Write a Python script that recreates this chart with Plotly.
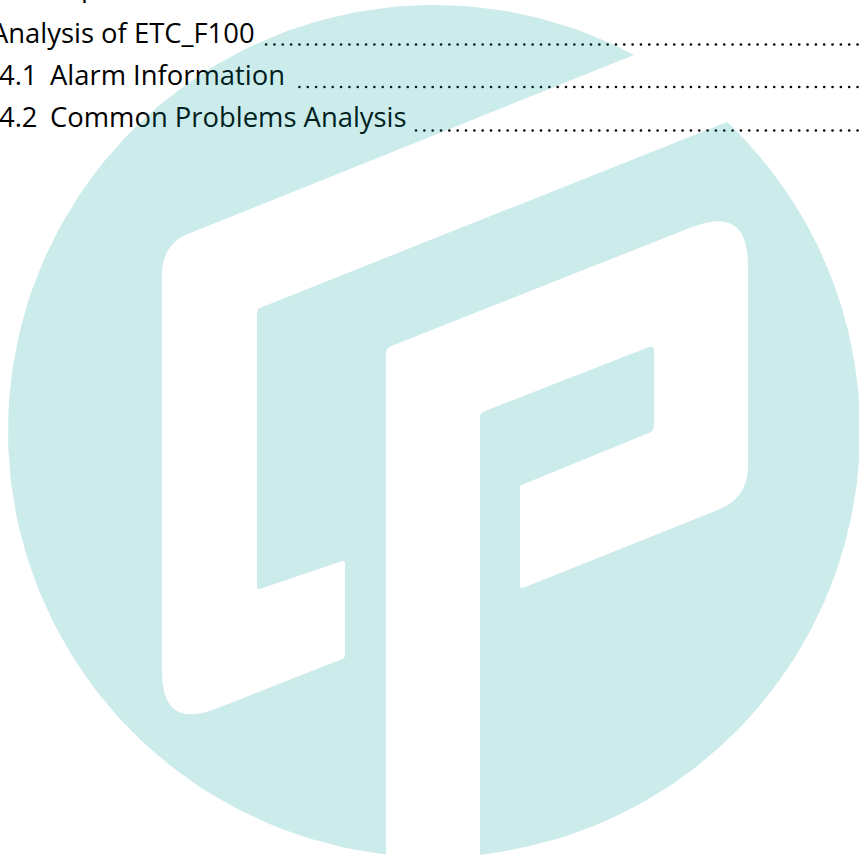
import numpy as np
import plotly.graph_objects as go

# ---------------- data ----------------
# table-of-contents rows (baseline y in px, text, x of text start)
row_baselines = [-1, 46, 88, 130]
row_numbers = ["", "", "4.1", "4.2"]
row_number_x = [0, 0, -1, -1]
row_titles = ["p", "Analysis of ETC_F100", "Alarm Information", "Common Problems Analysis"]
row_title_x = [81, -9, 50, 50]

# dot leaders
leader_rows_y = [44.5, 87, 130.5]
leader_start_x = [264, 298, 415]
leader_grid_origin = 432.7
leader_spacing = 8.33
page_right = 859

# watermark logo (circle + two cut channels), pixel coordinates
circle_cx, circle_cy, circle_r = 434, 431, 426
# L-shaped cut (x, y, corner radius)
band_x = [634, 162, 162, 345, 345, 257, 257, 727]
band_y = [55, 244, 730, 658, 560, 590, 309, 122]
band_r = [0, 30, 58, 3, 3, 3, 4, 0]
# P-shaped cut
gap_x = [480, 480, 654, 654, 520, 520, 748, 748, 386, 386]
gap_y = [855, 413, 345, 431, 485, 589, 498, 205, 348, 855]
gap_r = [0, 4, 6, 5, 3, 3, 32, 60, 5, 0]

watermark_rgba = "rgba(0,155,155,0.2)"
FONT = "Open Sans"
FSIZE = 27.4


def rounded(xs, ys, rs, n=10):
    out = []
    pts = list(zip(xs, ys))
    for i, (x, y) in enumerate(pts):
        r = rs[i]
        if r <= 0 or i == 0 or i == len(pts) - 1:
            out.append((x, y))
            continue
        px, py = pts[i - 1]
        nx, ny = pts[i + 1]
        v1 = np.array([px - x, py - y], float)
        v2 = np.array([nx - x, ny - y], float)
        a = np.array([x, y]) + r * v1 / np.linalg.norm(v1)
        b = np.array([x, y]) + r * v2 / np.linalg.norm(v2)
        c = np.array([x, y], float)
        for t in np.linspace(0, 1, n):
            p = (1 - t) ** 2 * a + 2 * (1 - t) * t * c + t ** 2 * b
            out.append((p[0], p[1]))
    return out


def arc(p_from, p_to, n=160):
    t1 = np.arctan2(p_from[1] - circle_cy, p_from[0] - circle_cx)
    t2 = np.arctan2(p_to[1] - circle_cy, p_to[0] - circle_cx)
    if t2 < t1:
        t2 += 2 * np.pi
    th = np.linspace(t1, t2, n)
    return list(zip(circle_cx + circle_r * np.cos(th), circle_cy + circle_r * np.sin(th)))


band = rounded(band_x, band_y, band_r)
gap = rounded(gap_x, gap_y, gap_r)
outline = band + arc(band[-1], gap[0]) + gap + arc(gap[-1], band[0])
wx = [p[0] for p in outline]
wy = [p[1] for p in outline]

fig = go.Figure()

shift = 0.35 * FSIZE
# titles
fig.add_trace(go.Scatter(
    x=row_title_x, y=[b - shift for b in row_baselines], text=row_titles,
    mode="text", textposition="middle right", cliponaxis=True,
    textfont=dict(family=FONT, size=FSIZE, color="#000000"),
    hoverinfo="skip", showlegend=False))
# numbers
fig.add_trace(go.Scatter(
    x=row_number_x, y=[b - shift for b in row_baselines], text=row_numbers,
    mode="text", textposition="middle right", cliponaxis=True,
    textfont=dict(family=FONT, size=FSIZE, color="#000000"),
    hoverinfo="skip", showlegend=False))

# dot leaders
dx, dy = [], []
for yy, xs in zip(leader_rows_y, leader_start_x):
    k0 = int(np.ceil((xs - leader_grid_origin) / leader_spacing))
    k = k0
    while leader_grid_origin + k * leader_spacing <= page_right + 4:
        dx.append(leader_grid_origin + k * leader_spacing)
        dy.append(yy)
        k += 1
fig.add_trace(go.Scatter(
    x=dx, y=dy, mode="markers",
    marker=dict(size=2.6, color="#000000", line=dict(width=0)),
    hoverinfo="skip", showlegend=False))

# watermark overlay
fig.add_trace(go.Scatter(
    x=wx, y=wy, mode="lines", fill="toself", fillcolor=watermark_rgba,
    line=dict(width=0, color="rgba(0,0,0,0)"),
    hoverinfo="skip", showlegend=False))

fig.update_layout(
    width=859, height=858, autosize=False,
    margin=dict(l=0, r=0, t=0, b=0, pad=0),
    paper_bgcolor="white", plot_bgcolor="white",
    xaxis=dict(range=[0, 859], visible=False, fixedrange=True),
    yaxis=dict(range=[858, 0], visible=False, fixedrange=True),
    showlegend=False,
)

fig.write_html(
    "out.html",
    config={"displayModeBar": False},
    post_script="document.body.style.margin='0px';document.body.style.overflow='hidden';",
)
